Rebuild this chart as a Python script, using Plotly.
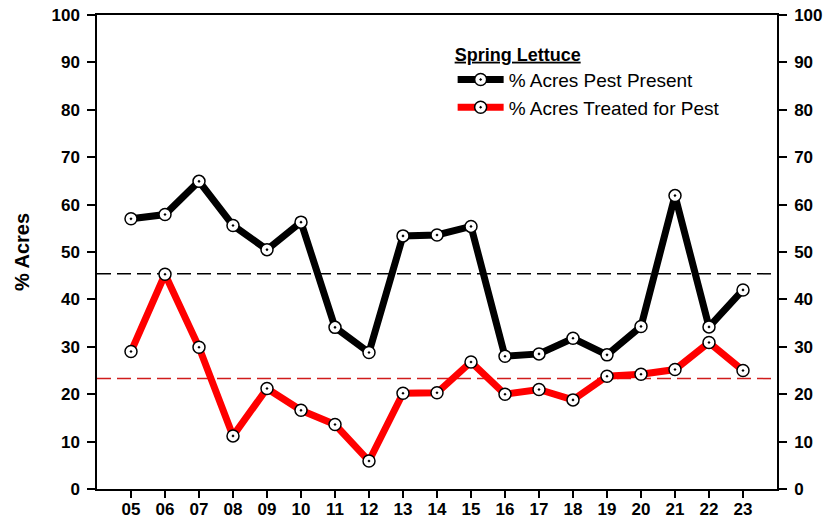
import plotly.graph_objects as go

years = ["05", "06", "07", "08", "09", "10", "11", "12", "13", "14",
         "15", "16", "17", "18", "19", "20", "21", "22", "23"]
pest_present = [57.0, 57.9, 64.9, 55.6, 50.5, 56.3, 34.1, 28.8, 53.4, 53.6,
                55.4, 28.0, 28.5, 31.8, 28.3, 34.3, 61.9, 34.2, 42.0]
treated = [29.0, 45.3, 29.9, 11.2, 21.2, 16.6, 13.6, 5.9, 20.2, 20.3,
           26.8, 20.0, 21.0, 18.8, 23.8, 24.2, 25.2, 30.9, 25.0]
avg_present = 45.4
avg_treated = 23.3
y_ticks = [0, 10, 20, 30, 40, 50, 60, 70, 80, 90, 100]

x = list(range(5, 5 + len(years)))
font = "Liberation Sans, Arial, sans-serif"

fig = go.Figure()

marker = dict(symbol="circle-dot", size=12, color="white",
              line=dict(color="black", width=1.5))

fig.add_trace(go.Scatter(x=x, y=pest_present, mode="lines+markers",
                         name="% Acres Pest Present",
                         line=dict(color="black", width=7), marker=marker))
fig.add_trace(go.Scatter(x=x, y=treated, mode="lines+markers",
                         name="% Acres Treated for Pest",
                         line=dict(color="#ff0000", width=7), marker=marker))
# dummy trace to activate the right-hand mirror axis
fig.add_trace(go.Scatter(x=[x[0]], y=[None], yaxis="y2", showlegend=False,
                         hoverinfo="skip"))

fig.add_shape(type="line", xref="x", yref="y", x0=4, x1=24,
              y0=avg_present, y1=avg_present, layer="below",
              line=dict(color="black", width=1.5, dash="14px,6px"))
fig.add_shape(type="line", xref="x", yref="y", x0=4, x1=24,
              y0=avg_treated, y1=avg_treated, layer="below",
              line=dict(color="#d01c1c", width=1.5, dash="14px,6px"))

axis_common = dict(range=[0, 100], tickvals=y_ticks, ticks="outside",
                   ticklen=8, tickwidth=1.5, tickcolor="black",
                   ticklabelstandoff=4,
                   showline=True, linecolor="black", linewidth=1.5,
                   showgrid=False, zeroline=False, automargin=False,
                   tickfont=dict(family=font, size=17, color="black",
                                 weight="bold"))

fig.update_layout(
    width=828, height=519,
    margin=dict(l=97, r=51, t=15, b=30),
    paper_bgcolor="white", plot_bgcolor="white",
    font=dict(family=font, color="black"),
    xaxis=dict(range=[4, 24], tickvals=x, ticktext=years,
               ticks="outside", ticklen=7, tickwidth=1.5, tickcolor="black",
               ticklabelstandoff=-3,
               showline=True, linecolor="black", linewidth=1.5,
               mirror=True, showgrid=False, zeroline=False, automargin=False,
               tickfont=dict(family=font, size=17, color="black",
                             weight="bold")),
    yaxis=dict(**axis_common,
               title=dict(text="<b>% Acres</b>",
                          font=dict(family=font, size=20, color="black"),
                          standoff=16)),
    yaxis2=dict(**axis_common, overlaying="y", side="right"),
    legend=dict(x=0.523, y=0.953, xanchor="left", yanchor="top",
                bgcolor="rgba(0,0,0,0)",
                title=dict(text="<b><u>Spring Lettuce</u></b>",
                           side="top",
                           font=dict(family=font, size=18, color="black")),
                font=dict(family=font, size=19, color="black"),
                tracegroupgap=0, itemwidth=46),
    showlegend=True,
)

fig.write_html("out.html")
